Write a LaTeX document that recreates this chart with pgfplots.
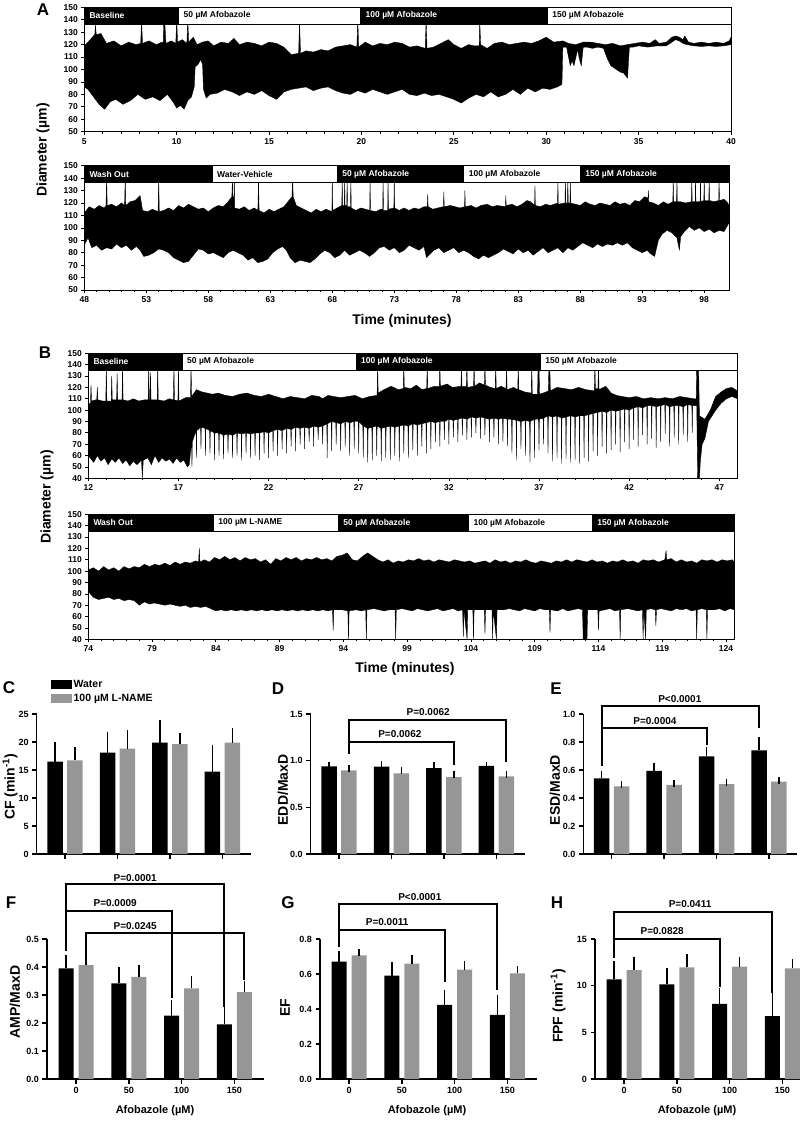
\documentclass[border=0pt]{standalone}
\usepackage{pgfplots}
\pgfplotsset{compat=1.18}
\usepackage{fontspec}
\setmainfont{Liberation Sans}
\definecolor{gbar}{RGB}{150,150,150}

\newcommand\bandfont{\bfseries\fontsize{8.5}{9}\selectfont}
\newcommand\labfont{\bfseries\fontsize{14}{16}\selectfont}
\newcommand\pfont{\bfseries\fontsize{10}{11}\selectfont}
% band: x1 x2 ybottom ymid label
\newcommand\blk[5]{%
  \draw[fill=black, line width=0.8pt] (axis cs:#1,#3) rectangle (axis cs:#2,150);
  \node[anchor=west, text=white, font=\bandfont, inner sep=0pt, xshift=5pt] at (axis cs:#1,#4) {#5};}
\newcommand\wht[5]{%
  \draw[fill=white, line width=0.8pt] (axis cs:#1,#3) rectangle (axis cs:#2,150);
  \node[anchor=west, text=black, font=\bandfont, inner sep=0pt, xshift=5pt] at (axis cs:#1,#4) {#5};}

\tikzset{brk/.style={line width=1.9pt}}
\pgfplotsset{
  trace/.style={
    scale only axis, anchor=south west,
    axis line style={line width=0.9pt},
    tick style={line width=0.7pt, black},
    tick align=outside, xtick pos=left, ytick pos=left,
    major tick length=3pt, minor tick length=2pt,
    minor x tick num=4, ymax=150,
    ticklabel style={font=\bfseries\fontsize{8.5}{9}\selectfont},
    /pgf/number format/assume math mode=true,
  },
  tr/.style={fill=black, draw=black, line width=0.35pt, line join=round},
  barax/.style={
    scale only axis, anchor=south west, height=140pt,
    axis x line*=bottom, axis y line*=left,
    axis line style={-, line width=1.5pt},
    tick style={line width=1.5pt, black},
    tick align=outside, major tick length=4.5pt,
    xtick={0,1,2,3}, ymin=0, clip=false,
    ticklabel style={font=\bfseries\fontsize{9}{10}\selectfont},
    /pgf/number format/assume math mode=true,
  },
  wb/.style={ybar, bar width=#1, bar shift=0pt, fill=black, draw=none,
    error bars/.cd, y dir=plus, y explicit,
    error bar style={line width=1.5pt, black},
    error mark options={line width=1.5pt, black, mark size=3.5pt}},
  gb/.style={ybar, bar width=#1, bar shift=0pt, fill=gbar, draw=none,
    error bars/.cd, y dir=plus, y explicit,
    error bar style={line width=1.5pt, black},
    error mark options={line width=1.5pt, black, mark size=3.5pt}},
}

\begin{document}
\begin{tikzpicture}[font=\bfseries]
\useasboundingbox (0,0) rectangle (800pt,-1126pt);

% ---------------- A top ----------------
\begin{axis}[trace, at={(84.3pt,-131.7pt)}, width=646.7pt, height=124.4pt,
  xmin=5, xmax=40, ymin=50, xtick={5,10,...,40}, ytick={50,60,...,150}]
\addplot[tr] coordinates {
(5.0,119) (5.2,122) (5.5,127) (5.57,128) (5.6,136) (5.65,128) (5.9,129) (6.2,121) (6.6,123) (7.0,119) (7.4,122)
(7.8,120) (8.05,121) (8.1,140) (8.15,121) (8.5,123) (8.9,120) (9.2,122) (9.27,121) (9.3,140) (9.35,140) (9.42,121)
(9.7,123) (9.95,121) (10.0,140) (10.05,122) (10.3,124) (10.55,121) (10.6,140) (10.65,122) (10.9,126) (11.1,120)
(11.4,122) (11.7,123) (12.0,119) (12.4,122) (12.8,121) (13.1,125) (13.4,120) (13.8,122) (14.2,121) (14.6,119)
(15.0,122) (15.4,121) (15.8,118) (16.2,112) (16.6,113) (16.65,140) (16.7,113) (17.0,115) (17.4,114) (17.8,116)
(18.2,115) (18.6,118) (19.0,119) (19.4,120) (19.75,118) (19.8,140) (19.85,118) (20.2,122) (20.6,119) (21.0,121)
(21.4,120) (21.8,122) (22.2,121) (22.6,118) (23.0,119) (23.45,117) (23.5,140) (23.55,117) (23.9,118) (24.3,121)
(24.7,124) (25.0,120) (25.4,117) (25.8,120) (26.1,119) (26.37,119) (26.4,140) (26.45,120) (26.8,117) (27.2,121) (27.6,122)
(28.0,120) (28.4,121) (28.8,122) (29.2,121) (29.6,123) (30.0,126) (30.4,122) (30.9,123) (31.2,121) (31.6,120)
(32.0,122) (32.4,122) (32.8,121) (33.2,120) (33.6,121) (34.0,119) (34.4,120) (34.8,121) (35.2,122) (35.6,121)
(35.9,124) (36.1,121) (36.5,122) (36.8,126) (37.0,127) (37.2,126) (37.4,124) (37.5,127) (37.7,122) (38.0,121)
(38.4,122) (38.8,121) (39.2,122) (39.6,121) (39.9,123) (40.0,126)
(40.0,120) (39.6,119) (39.2,118.5) (38.8,119) (38.4,118.5) (38.0,119) (37.6,120) (37.4,121) (37.2,123) (37.0,124)
(36.8,122) (36.5,119) (36.0,119) (35.5,118) (35.0,119) (34.7,118) (34.5,118) (34.4,93) (34.2,97) (34.0,98)
(33.8,100) (33.5,103) (33.3,109) (33.1,117) (32.8,118) (32.5,117) (32.2,118) (32.0,118) (31.9,103) (31.8,108)
(31.7,116) (31.5,103) (31.4,107) (31.3,103) (31.1,118) (30.9,118) (30.85,88) (30.6,86) (30.2,84) (29.8,85)
(29.4,82) (29.0,85) (28.6,80) (28.2,84) (27.8,80) (27.4,78) (27.0,82) (26.6,78) (26.2,80) (25.8,77)
(25.4,73) (25.0,76) (24.6,78) (24.2,80) (23.8,79) (23.4,81) (23.0,79) (22.6,80) (22.2,84) (21.8,82)
(21.4,80) (21.0,82) (20.6,84) (20.2,81) (19.8,83) (19.4,80) (19.0,81) (18.6,83) (18.2,86) (17.8,85)
(17.4,83) (17.0,86) (16.6,85) (16.2,84) (15.8,82) (15.4,76) (15.0,79) (14.6,83) (14.2,80) (13.8,82)
(13.4,79) (13.0,82) (12.6,84) (12.2,81) (11.8,80) (11.6,77) (11.45,84) (11.4,104) (11.3,108) (11.15,104)
(11.0,102) (10.95,86) (10.8,78) (10.6,75) (10.4,68) (10.2,71) (10.0,69) (9.8,74) (9.5,80) (9.1,75)
(8.7,78) (8.3,76) (7.9,80) (7.5,75) (7.1,72) (6.7,76) (6.4,74) (6.1,68) (5.8,72) (5.5,78) (5.2,84) (5.0,86)
} -- cycle;
\blk{5}{10.1}{136.5}{143.25}{Baseline}
\wht{10.1}{19.95}{136.5}{143.25}{50 µM Afobazole}
\blk{19.95}{30.05}{136.5}{143.25}{100 µM Afobazole}
\wht{30.05}{40}{136.5}{143.25}{150 µM Afobazole}
\end{axis}

% ---------------- A bottom ----------------
\begin{axis}[trace, at={(84.3pt,-290pt)}, width=644.7pt, height=124.3pt,
  xmin=48, xmax=100, ymin=50, xtick={48,53,...,98}, ytick={50,60,...,150}]
\addplot[tr] coordinates {
(48.0,112) (48.4,117) (48.8,115) (49.2,118) (49.6,116) (49.75,118) (49.8,140) (49.85,118) (50.2,119) (50.6,117)
(51.0,120) (51.25,118) (51.3,140) (51.35,118) (51.7,121) (52.1,122) (52.5,126) (52.7,114) (53.1,113) (53.5,115)
(53.95,113) (54.0,140) (54.05,113) (54.4,114) (54.8,116) (55.2,114) (55.6,118) (56.0,116) (56.4,119) (56.8,117)
(57.2,115) (57.6,116) (58.0,113) (58.4,116) (58.8,118) (59.2,117) (59.6,121) (59.9,125) (59.95,140) (59.98,125)
(60.07,125) (60.1,140) (60.13,116) (60.5,115) (60.9,117) (61.3,114) (61.7,116) (62.0,114) (62.05,140) (62.1,114) (62.5,112)
(62.9,115) (63.3,113) (63.7,115) (64.1,117) (64.5,122) (64.75,125) (64.8,140) (64.85,125) (65.1,118) (65.5,116)
(65.9,114) (66.3,112) (66.7,115) (67.1,113) (67.5,115) (67.97,113) (68.0,140) (68.03,114) (68.4,116) (68.77,118)
(68.8,140) (68.83,118) (68.97,118) (69.0,140) (69.03,118) (69.17,118) (69.2,140) (69.23,117) (69.47,117) (69.5,140) (69.53,116) (69.9,114) (70.3,116)
(70.7,115) (71.02,114) (71.05,140) (71.08,114) (71.5,113) (71.9,115) (72.07,115) (72.1,140) (72.13,114) (72.47,114) (72.5,140) (72.53,115)
(72.97,116) (73.0,140) (73.03,116) (73.4,114) (73.8,116) (74.2,114) (74.6,116) (75.0,115) (75.4,117) (75.67,117) (75.7,127)
(75.73,117) (76.1,115) (76.5,116) (76.97,117) (77.0,129) (77.03,117) (77.5,118) (77.9,117) (78.3,116) (78.67,117)
(78.7,130) (78.73,117) (79.2,118) (79.6,116) (80.0,118) (80.5,119) (80.9,117) (81.3,118) (81.97,117) (82.0,126)
(82.03,118) (82.5,119) (82.9,117) (83.3,119) (83.7,122) (84.0,121) (84.32,118) (84.35,134) (84.38,118) (84.8,117)
(85.2,119) (85.6,118) (86.17,120) (86.2,138) (86.23,119) (86.77,120) (86.8,140) (86.83,120) (86.97,120) (87.0,140) (87.03,120)
(87.17,120) (87.2,140) (87.23,120) (87.6,119) (88.0,118) (88.4,121) (88.8,119) (89.2,118) (89.6,120) (90.0,119) (90.4,118)
(90.8,121) (91.2,119) (91.6,120) (92.0,118) (92.4,122) (92.8,121) (93.2,125) (93.47,124) (93.5,130) (93.53,121) (93.9,120)
(94.3,118) (94.7,121) (95.1,119) (95.47,121) (95.5,140) (95.53,121) (95.77,121) (95.8,140) (95.83,121) (96.1,121) (96.5,120)
(96.97,121) (97.0,140) (97.03,121) (97.27,121) (97.3,140) (97.33,121) (97.67,121) (97.7,140) (97.73,121) (97.97,122) (98.0,140) (98.03,122)
(98.37,122) (98.4,140) (98.43,122) (98.8,121) (99.17,122) (99.2,140) (99.23,122) (99.6,123) (99.9,120) (100,118)
(100,104) (99.6,97) (99.2,98) (98.8,96) (98.4,99) (98.0,97) (97.6,100) (97.2,98) (96.8,101) (96.4,97)
(96.1,93) (96.0,82) (95.8,92) (95.4,96) (95.0,98) (94.6,95) (94.3,90) (94.0,77) (93.7,79) (93.4,82)
(93.0,80) (92.6,82) (92.2,84) (91.8,88) (91.4,86) (91.0,88) (90.6,86) (90.2,87) (89.8,85) (89.4,87)
(89.0,84) (88.6,86) (88.2,88) (87.8,85) (87.4,82) (87.0,84) (86.6,80) (86.2,84) (85.8,82) (85.4,80)
(85.0,84) (84.6,81) (84.2,78) (83.8,82) (83.4,80) (83.0,83) (82.6,79) (82.2,81) (81.8,83) (81.4,80)
(81.0,78) (80.6,76) (80.2,78) (79.8,75) (79.4,77) (79.0,80) (78.6,82) (78.2,80) (77.8,84) (77.4,82)
(77.0,80) (76.6,84) (76.2,82) (75.8,78) (75.6,76) (75.4,85) (75.0,82) (74.6,84) (74.2,86) (73.8,82)
(73.4,80) (73.0,84) (72.6,82) (72.2,85) (71.8,84) (71.4,80) (71.0,77) (70.6,80) (70.2,82) (69.8,80)
(69.4,78) (69.0,82) (68.6,78) (68.2,76) (67.8,80) (67.4,82) (67.0,79) (66.6,75) (66.2,72) (65.8,73)
(65.4,74) (65.0,72) (64.6,76) (64.3,82) (64.0,85) (63.6,83) (63.2,80) (62.8,75) (62.4,73) (62.0,72)
(61.6,76) (61.2,74) (60.8,78) (60.4,80) (60.0,82) (59.6,80) (59.2,76) (58.8,78) (58.4,80) (58.0,79)
(57.6,82) (57.2,83) (56.8,78) (56.4,73) (56.0,72) (55.6,74) (55.2,76) (54.8,80) (54.4,82) (54.0,83)
(53.6,80) (53.2,78) (52.8,77) (52.5,82) (52.2,85) (51.8,82) (51.4,86) (51.0,84) (50.6,87) (50.2,83)
(49.8,84) (49.4,82) (49.0,86) (48.6,84) (48.3,92) (48.0,86)
} -- cycle;
\blk{48}{58.3}{136.5}{143.25}{Wash Out}
\wht{58.3}{68.4}{136.5}{143.25}{Water-Vehicle}
\blk{68.4}{78.6}{136.5}{143.25}{50 µM Afobazole}
\wht{78.6}{88}{136.5}{143.25}{100 µM Afobazole}
\blk{88}{100}{136.5}{143.25}{150 µM Afobazole}
\end{axis}

% ---------------- B top ----------------
\begin{axis}[trace, at={(88.3pt,-478.3pt)}, width=649pt, height=125pt,
  xmin=12, xmax=48, ymin=40, xtick={12,17,...,47}, ytick={40,50,...,150}]
\addplot[tr] coordinates {
(12.0,105) (12.12,106) (12.15,122) (12.18,108) (12.4,109) (12.47,109) (12.5,120) (12.53,109) (12.8,108) (12.97,108) (13.0,140) (13.03,108)
(13.27,108) (13.3,130) (13.33,109) (13.57,109) (13.6,132) (13.63,109) (13.87,109) (13.9,140) (13.93,109) (14.2,108) (14.5,110) (14.8,108)
(15.1,109) (15.32,109) (15.35,140) (15.38,109) (15.42,109) (15.45,133) (15.48,109) (15.82,109) (15.85,140) (15.88,109) (16.2,108)
(16.5,110) (16.72,109) (16.75,140) (16.78,109) (16.97,108) (17.0,140) (17.03,108)
(17.4,111) (17.67,111) (17.7,140) (17.73,112) (18.0,118) (18.3,116) (18.6,115) (18.9,114) (19.2,115) (19.6,113) (20.0,112)
(20.4,114) (20.8,115) (21.2,113) (21.6,112) (22.0,114) (22.4,112) (22.8,110) (23.2,112) (23.6,111) (24.0,110)
(24.4,113) (24.8,112) (25.0,110) (25.3,113) (25.6,112) (26.0,111) (26.4,112) (26.8,113) (27.2,110) (27.6,112)
(28.02,113) (28.05,140) (28.08,115) (28.4,118) (28.8,121) (29.2,118) (29.47,119) (29.5,140) (29.53,120) (29.9,119) (30.2,122)
(30.5,118) (30.77,119) (30.8,140) (30.83,119) (31.2,121) (31.47,121) (31.5,140) (31.53,121) (31.9,123) (32.2,120)
(32.67,121) (32.7,140) (32.73,121) (32.97,121) (33.0,140) (33.03,120) (33.37,121) (33.4,140) (33.43,121) (33.7,124)
(33.97,122) (34.0,140) (34.03,122) (34.3,120) (34.57,119) (34.6,140) (34.63,119) (34.9,121) (35.17,119) (35.2,140) (35.23,118)
(35.6,120) (35.82,118) (35.85,140) (35.88,118) (36.2,116) (36.57,115) (36.6,140) (36.63,114) (36.92,114) (36.95,140)
(37.0,140) (37.03,114) (37.4,116) (37.52,117) (37.55,140) (37.6,140) (37.63,117) (38.0,120) (38.4,119) (38.8,118) (39.2,120)
(39.6,118) (40.07,117) (40.1,140) (40.13,119) (40.27,119) (40.3,140) (40.33,118) (40.7,121) (41.0,115) (41.3,113) (41.6,112)
(42.0,111) (42.4,112) (42.8,110) (43.2,111) (43.6,110) (44.0,111) (44.4,110) (44.8,112) (45.2,111) (45.6,110)
(45.72,110) (45.75,140) (45.85,140) (45.9,95) (46.2,92) (46.5,100) (46.8,112) (47.1,116) (47.4,119) (47.7,120) (48.0,117)
(48.0,110) (47.7,112) (47.4,110) (47.1,106) (46.8,100) (46.6,95) (46.4,90) (46.2,75) (46.05,70) (45.95,55)
(45.9,40) (45.85,40) (45.8,40) (45.75,104)
(45.52,104) (45.5,80) (45.48,104) (45.27,105) (45.25,72) (45.23,105) (45.02,103) (45.0,78) (44.98,103)
(44.77,104) (44.75,70) (44.73,104) (44.52,104) (44.5,76) (44.48,104) (44.27,103) (44.25,68) (44.23,103)
(44.02,105) (44.0,79) (43.98,105) (43.77,104) (43.75,72) (43.73,104) (43.52,103) (43.5,67) (43.48,103)
(43.27,104) (43.25,75) (43.23,104) (43.02,104) (43.0,70) (42.98,104) (42.77,102) (42.75,78) (42.73,102)
(42.52,103) (42.5,68) (42.48,103) (42.27,102) (42.25,74) (42.23,102) (42.02,100) (42.0,66) (41.98,100)
(41.77,101) (41.75,72) (41.73,101) (41.52,100) (41.5,63) (41.48,100) (41.27,99) (41.25,70) (41.23,99)
(41.02,100) (41.0,65) (40.98,100) (40.77,98) (40.75,62) (40.73,98) (40.52,99) (40.5,68) (40.48,99)
(40.27,98) (40.25,60) (40.23,98) (40.02,97) (40.0,64) (39.98,97) (39.77,96) (39.75,55) (39.73,96)
(39.52,95) (39.5,58) (39.48,95) (39.27,95) (39.25,53) (39.23,95) (39.02,94) (39.0,56) (38.98,94)
(38.77,95) (38.75,54) (38.73,95) (38.52,94) (38.5,57) (38.48,94) (38.27,93) (38.25,53) (38.23,93)
(38.02,95) (38.0,58) (37.98,95) (37.77,94) (37.75,55) (37.73,94) (37.52,95) (37.5,62) (37.48,95)
(37.27,93) (37.25,70) (37.23,93) (37.02,92) (37.0,65) (36.98,92) (36.77,92) (36.75,58) (36.73,92)
(36.52,90) (36.5,54) (36.48,90) (36.27,91) (36.25,60) (36.23,91) (36.02,90) (36.0,66) (35.98,90)
(35.77,91) (35.75,56) (35.73,91) (35.52,92) (35.5,62) (35.48,92) (35.27,92) (35.25,68) (35.23,92)
(35.02,93) (35.0,72) (34.98,93) (34.77,92) (34.75,70) (34.73,92) (34.52,93) (34.5,76) (34.48,93)
(34.27,92) (34.25,72) (34.23,92) (34.02,93) (34.0,78) (33.98,93) (33.77,94) (33.75,75) (33.73,94)
(33.52,93) (33.5,80) (33.48,93) (33.27,94) (33.25,76) (33.23,94) (33.02,92) (33.0,74) (32.98,92)
(32.77,93) (32.75,78) (32.73,93) (32.52,92) (32.5,72) (32.48,92) (32.27,91) (32.25,76) (32.23,91)
(32.02,92) (32.0,70) (31.98,92) (31.77,90) (31.75,74) (31.73,90) (31.52,90) (31.5,68) (31.48,90)
(31.27,89) (31.25,72) (31.23,89) (31.02,90) (31.0,66) (30.98,90) (30.77,89) (30.75,62) (30.73,89)
(30.52,88) (30.5,68) (30.48,88) (30.27,87) (30.25,60) (30.23,87) (30.02,88) (30.0,65) (29.98,88)
(29.77,86) (29.75,58) (29.73,86) (29.52,87) (29.5,62) (29.48,87) (29.27,86) (29.25,55) (29.23,86)
(29.02,85) (29.0,60) (28.98,85) (28.77,86) (28.75,56) (28.73,86) (28.52,85) (28.5,58) (28.48,85)
(28.27,84) (28.25,55) (28.23,84) (28.02,86) (28.0,60) (27.98,86) (27.77,85) (27.75,56) (27.73,85)
(27.52,84) (27.5,54) (27.48,84) (27.27,86) (27.25,58) (27.23,86) (27.02,90) (27.0,62) (26.98,90)
(26.77,90) (26.75,66) (26.73,90) (26.52,89) (26.5,60) (26.48,89) (26.27,90) (26.25,68) (26.23,90)
(26.02,88) (26.0,64) (25.98,88) (25.77,89) (25.75,70) (25.73,89) (25.52,90) (25.5,64) (25.48,90)
(25.27,88) (25.25,58) (25.23,88) (25.02,86) (25.0,70) (24.98,86) (24.77,85) (24.75,74) (24.73,85)
(24.52,86) (24.5,68) (24.48,86) (24.27,84) (24.25,72) (24.23,84) (24.02,85) (24.0,66) (23.98,85)
(23.77,84) (23.75,70) (23.73,84) (23.52,85) (23.5,64) (23.48,85) (23.27,83) (23.25,68) (23.23,83)
(23.02,84) (23.0,62) (22.98,84) (22.77,82) (22.75,66) (22.73,82) (22.52,83) (22.5,60) (22.48,83)
(22.27,82) (22.25,64) (22.23,82) (22.02,80) (22.0,58) (21.98,80) (21.77,81) (21.75,62) (21.73,81)
(21.52,80) (21.5,56) (21.48,80) (21.27,80) (21.25,60) (21.23,80) (21.02,79) (21.0,58) (20.98,79)
(20.77,80) (20.75,62) (20.73,80) (20.52,79) (20.5,56) (20.48,79) (20.27,80) (20.25,60) (20.23,80)
(20.02,78) (20.0,58) (19.98,78) (19.77,79) (19.75,62) (19.73,79) (19.52,78) (19.5,57) (19.48,78)
(19.27,80) (19.25,60) (19.23,80) (19.02,80) (19.0,56) (18.98,80) (18.77,82) (18.75,62) (18.73,82)
(18.52,84) (18.5,60) (18.48,84) (18.27,85) (18.25,66) (18.23,85) (18.02,82) (18.0,58) (17.98,82)
(17.77,72) (17.75,50) (17.73,72)
(17.6,52) (17.5,50) (17.3,56) (17.1,54) (16.9,58) (16.7,53) (16.5,57) (16.3,55) (16.1,58) (15.9,54)
(15.7,60) (15.5,52) (15.3,58) (15.05,56) (15.0,40) (14.95,56) (14.7,52) (14.5,55) (14.3,51) (14.1,56)
(13.9,53) (13.7,58) (13.5,54) (13.3,57) (13.1,52) (12.9,58) (12.7,55) (12.5,60) (12.3,54) (12.1,58) (12.0,60)
} -- cycle;
\blk{12}{17.2}{135.3}{142.65}{Baseline}
\wht{17.2}{26.85}{135.3}{142.65}{50 µM Afobazole}
\blk{26.85}{37.07}{135.3}{142.65}{100 µM Afobazole}
\wht{37.07}{48}{135.3}{142.65}{150 µM Afobazole}
\end{axis}

% ---------------- B bottom ----------------
\begin{axis}[trace, at={(88.3pt,-639.3pt)}, width=646pt, height=125pt,
  xmin=74, xmax=124.65, ymin=40, xtick={74,79,...,124}, ytick={40,50,...,150}]
\addplot[tr] coordinates {
(74.0,101) (74.4,103) (74.8,100) (75.2,104) (75.6,101) (76.0,103) (76.4,100) (76.8,104) (77.2,102) (77.6,104)
(78.0,103) (78.4,106) (78.8,104) (79.2,106) (79.6,105) (80.0,107) (80.4,105) (80.8,108) (81.2,106) (81.6,108)
(82.0,107) (82.4,109) (82.65,108) (82.7,120) (82.75,108) (83.1,110) (83.5,108) (83.9,112) (84.3,110) (84.7,113)
(85.1,110) (85.5,112) (85.9,109) (86.3,112) (86.7,110) (87.1,111) (87.5,108) (87.9,110) (88.3,106) (88.7,111)
(89.1,109) (89.5,112) (89.9,110) (90.3,112) (90.7,109) (91.1,111) (91.5,110) (91.9,112) (92.3,110) (92.7,111)
(93.1,109) (93.5,113) (93.9,114) (94.3,116) (94.7,110) (95.1,109) (95.5,113) (95.9,116) (96.3,113) (96.7,110)
(97.1,108) (97.5,110) (97.9,107) (98.3,109) (98.7,108) (99.1,110) (99.5,109) (99.9,111) (100.3,109) (100.7,110)
(101.1,108) (101.5,110) (101.9,109) (102.3,108) (102.7,110) (103.1,109) (103.5,108) (103.9,109) (104.3,107) (104.7,108)
(105.1,109) (105.5,107) (105.9,110) (106.3,108) (106.7,109) (107.1,107) (107.5,109) (107.9,108) (108.3,110) (108.7,108)
(109.1,107) (109.5,109) (109.9,108) (110.3,107) (110.7,109) (111.1,108) (111.5,110) (111.9,108) (112.3,110) (112.7,109)
(113.1,108) (113.5,110) (113.9,108) (114.3,109) (114.7,107) (115.1,109) (115.5,108) (115.9,110) (116.3,108) (116.7,109)
(117.1,107) (117.5,110) (117.9,109) (118.3,110) (118.7,108) (119.2,110) (119.3,118) (119.35,110) (119.7,111) (120.1,108)
(120.5,110) (120.9,108) (121.3,109) (121.7,107) (122.1,110) (122.5,109) (122.9,110) (123.3,108) (123.7,110) (124.1,109)
(124.5,110) (124.65,108)
(124.65,66) (124.3,67) (123.9,65) (123.5,67) (123.1,66) (122.55,66) (122.5,40) (122.45,66) (122.1,67) (121.75,66)
(121.7,40) (121.65,66) (121.3,65) (120.9,67) (120.5,66) (120.1,67) (119.7,65) (119.3,66) (118.9,67) (118.55,66)
(118.5,52) (118.45,66) (118.1,67) (117.75,66) (117.7,40) (117.55,66) (117.5,40) (117.45,66) (117.1,65) (116.7,66)
(116.3,67) (115.75,66) (115.7,40) (115.65,66) (115.3,65) (114.9,67) (114.5,66) (114.05,65) (114.0,48) (113.95,66)
(113.6,66) (113.15,66) (113.1,40) (113.0,40) (112.8,40) (112.75,66) (112.4,67) (112.0,66) (111.6,65) (111.2,67)
(110.8,65) (110.25,66) (110.2,46) (110.15,66) (109.8,66) (109.4,67) (109.0,65) (108.6,66) (108.2,67) (107.8,65)
(107.4,66) (107.0,67) (106.6,66) (106.05,66) (106.0,40) (105.75,66) (105.7,40) (105.65,66) (105.15,66) (105.1,45)
(105.05,66) (104.25,66) (104.2,40) (104.15,66) (103.75,66) (103.7,40) (103.45,66) (103.4,42) (103.35,66) (103.0,65)
(102.6,67) (102.2,66) (101.8,65) (101.4,67) (101.0,66) (100.6,65) (100.2,66) (99.8,67) (99.4,65) (99.0,66)
(98.6,67) (98.15,66) (98.1,40) (98.05,66) (97.6,66) (97.2,65) (96.8,66) (96.4,67) (95.85,66) (95.8,40)
(95.75,66) (95.4,65) (95.0,66) (94.45,65) (94.4,40) (94.35,65) (93.9,66) (93.25,66) (93.2,48) (93.15,66)
(92.8,65) (92.4,66) (92.0,65) (91.6,66) (91.2,65) (90.8,66) (90.4,65) (90.0,66) (89.6,65) (89.2,66)
(88.8,65) (88.4,66) (88.0,65) (87.6,66) (87.2,65) (86.8,66) (86.4,65) (86.0,66) (85.6,65) (85.2,66)
(84.8,65) (84.4,66) (84.0,65) (83.6,67) (83.2,69) (82.8,68) (82.4,69) (82.0,68) (81.6,70) (81.2,69)
(80.8,70) (80.4,71) (80.0,70) (79.6,71) (79.2,72) (78.8,71) (78.4,73) (78.0,70) (77.6,74) (77.2,75)
(76.8,74) (76.4,76) (76.0,75) (75.6,77) (75.2,76) (74.8,75) (74.4,77) (74.0,82)
} -- cycle;
\blk{74}{83.8}{135}{142.5}{Wash Out}
\wht{83.8}{93.6}{135}{142.5}{100 µM L-NAME}
\blk{93.6}{103.8}{135}{142.5}{50 µM Afobazole}
\wht{103.8}{113.5}{135}{142.5}{100 µM Afobazole}
\blk{113.5}{124.65}{135}{142.5}{150 µM Afobazole}
\end{axis}

% trace labels
\node[font=\bfseries\fontsize{17}{18}\selectfont] at (43pt,-10pt) {A};
\node[font=\bfseries\fontsize{17}{18}\selectfont] at (45pt,-353pt) {B};
\node[font=\labfont, rotate=90] at (43pt,-150pt) {Diameter (µm)};
\node[font=\labfont, rotate=90] at (47pt,-497pt) {Diameter (µm)};
\node[font=\labfont] at (402pt,-321pt) {Time (minutes)};
\node[font=\labfont] at (405pt,-669pt) {Time (minutes)};

% ---------------- C ----------------
\begin{axis}[barax, at={(36.7pt,-854pt)}, width=214pt,
  xmin=-0.54, xmax=3.54, ymax=25, ytick={0,5,...,25}, xticklabel=\empty,
  legend style={at={(0.05,1.27)}, anchor=north west, draw=none, fill=none,
    font=\bfseries\fontsize{10.5}{11}\selectfont, row sep=1pt},
  legend cell align=left,
  legend image code/.code={\fill[#1] (0pt,-4.5pt) rectangle (21pt,5pt);}]
\addplot[wb=15.5pt] table[row sep=\\, x=x, y=y, y error=e] {
x y e\\ -0.19 16.5 2.9\\ 0.81 18.1 3.1\\ 1.81 19.9 3.4\\ 2.81 14.7 4.1\\};
\addlegendentry{Water}
\addplot[gb=15.5pt] table[row sep=\\, x=x, y=y, y error=e] {
x y e\\ 0.19 16.7 1.7\\ 1.19 18.8 2.7\\ 2.19 19.6 1.3\\ 3.19 19.9 1.9\\};
\addlegendentry{100 µM L-NAME}
\end{axis}

% ---------------- D ----------------
\begin{axis}[barax, at={(310.7pt,-854pt)}, width=214pt,
  xmin=-0.54, xmax=3.54, ymax=1.5, ytick={0,0.5,1,1.5}, xticklabel=\empty,
  yticklabel style={/pgf/number format/.cd, fixed, fixed zerofill, precision=1}]
\addplot[wb=15.5pt] table[row sep=\\, x=x, y=y, y error=e] {
x y e\\ -0.19 0.940 0.006\\ 0.81 0.935 0.020\\ 1.81 0.920 0.025\\ 2.81 0.945 0.006\\};
\addplot[gb=15.5pt] table[row sep=\\, x=x, y=y, y error=e] {
x y e\\ 0.19 0.895 0.018\\ 1.19 0.865 0.030\\ 2.19 0.825 0.032\\ 3.19 0.832 0.022\\};
\draw[brk] (axis cs:0.19,1.075) |- (axis cs:3.19,1.434) -- (axis cs:3.19,0.986);
\draw[brk] (axis cs:0.19,1.20) -- (axis cs:2.19,1.20) -- (axis cs:2.19,0.95);
\node[font=\pfont] at (axis cs:1.70,1.525) {P=0.0062};
\node[font=\pfont] at (axis cs:1.16,1.29) {P=0.0062};
\end{axis}

% ---------------- E ----------------
\begin{axis}[barax, at={(583.3pt,-854pt)}, width=214pt,
  xmin=-0.54, xmax=3.54, ymax=1.0, ytick={0,0.2,...,1.0}, xticklabel=\empty,
  yticklabel style={/pgf/number format/.cd, fixed, fixed zerofill, precision=1}]
\addplot[wb=15.5pt] table[row sep=\\, x=x, y=y, y error=e] {
x y e\\ -0.19 0.540 0.030\\ 0.81 0.593 0.033\\ 1.81 0.698 0.042\\ 2.81 0.740 0.070\\};
\addplot[gb=15.5pt] table[row sep=\\, x=x, y=y, y error=e] {
x y e\\ 0.19 0.483 0.010\\ 1.19 0.493 0.012\\ 2.19 0.500 0.014\\ 3.19 0.517 0.009\\};
\draw[brk] (axis cs:-0.19,0.626) |- (axis cs:2.81,1.06) -- (axis cs:2.81,0.898);
\draw[brk] (axis cs:-0.19,0.898) -- (axis cs:1.81,0.898) -- (axis cs:1.81,0.779);
\node[font=\pfont] at (axis cs:1.30,1.11) {P<0.0001};
\node[font=\pfont] at (axis cs:0.825,0.952) {P=0.0004};
\end{axis}

% ---------------- F ----------------
\begin{axis}[barax, at={(47pt,-1079pt)}, width=216.7pt,
  xmin=-0.554, xmax=3.558, ymax=0.5, ytick={0,0.1,...,0.5}, xticklabels={0,50,100,150},
  yticklabel style={/pgf/number format/.cd, fixed, fixed zerofill, precision=1}]
\addplot[wb=15pt] table[row sep=\\, x=x, y=y, y error=e] {
x y e\\ -0.19 0.395 0.036\\ 0.81 0.342 0.044\\ 1.81 0.226 0.044\\ 2.81 0.195 0.049\\};
\addplot[gb=15pt] table[row sep=\\, x=x, y=y, y error=e] {
x y e\\ 0.19 0.407 0.022\\ 1.19 0.365 0.031\\ 2.19 0.324 0.030\\ 3.19 0.310 0.026\\};
\draw[brk] (axis cs:-0.19,0.458) |- (axis cs:2.81,0.696) -- (axis cs:2.81,0.258);
\draw[brk] (axis cs:-0.19,0.60) -- (axis cs:1.81,0.60) -- (axis cs:1.81,0.288);
\draw[brk] (axis cs:0.19,0.439) |- (axis cs:3.19,0.523) -- (axis cs:3.19,0.354);
\node[font=\pfont] at (axis cs:1.12,0.718) {P=0.0001};
\node[font=\pfont] at (axis cs:0.74,0.627) {P=0.0009};
\node[font=\pfont] at (axis cs:1.12,0.548) {P=0.0245};
\end{axis}

% ---------------- G ----------------
\begin{axis}[barax, at={(320pt,-1079pt)}, width=216.7pt,
  xmin=-0.554, xmax=3.558, ymax=0.8, ytick={0,0.2,...,0.8}, xticklabels={0,50,100,150},
  yticklabel style={/pgf/number format/.cd, fixed, fixed zerofill, precision=1}]
\addplot[wb=15pt] table[row sep=\\, x=x, y=y, y error=e] {
x y e\\ -0.19 0.671 0.038\\ 0.81 0.591 0.055\\ 1.81 0.424 0.066\\ 2.81 0.367 0.095\\};
\addplot[gb=15pt] table[row sep=\\, x=x, y=y, y error=e] {
x y e\\ 0.19 0.707 0.015\\ 1.19 0.659 0.029\\ 2.19 0.625 0.027\\ 3.19 0.604 0.019\\};
\draw[brk] (axis cs:-0.19,0.756) |- (axis cs:2.81,1.0) -- (axis cs:2.81,0.509);
\draw[brk] (axis cs:-0.19,0.851) -- (axis cs:1.81,0.851) -- (axis cs:1.81,0.557);
\node[font=\pfont] at (axis cs:1.34,1.04) {P<0.0001};
\node[font=\pfont] at (axis cs:0.72,0.899) {P=0.0011};
\end{axis}

% ---------------- H ----------------
\begin{axis}[barax, at={(595pt,-1079pt)}, width=204.5pt,
  xmin=-0.554, xmax=3.326, ymax=15, ytick={0,5,10,15}, xticklabels={0,50,100,150}]
\addplot[wb=15pt] table[row sep=\\, x=x, y=y, y error=e] {
x y e\\ -0.19 10.68 1.6\\ 0.81 10.14 1.4\\ 1.81 8.04 1.3\\ 2.81 6.75 2.1\\};
\addplot[gb=15pt] table[row sep=\\, x=x, y=y, y error=e] {
x y e\\ 0.19 11.68 1.07\\ 1.19 11.96 1.1\\ 2.19 12.04 0.7\\ 3.19 11.86 0.65\\};
\draw[brk] (axis cs:-0.19,13.0) |- (axis cs:2.81,17.86) -- (axis cs:2.81,9.18);
\draw[brk] (axis cs:-0.19,15.0) -- (axis cs:1.81,15.0) -- (axis cs:1.81,9.9);
\node[font=\pfont] at (axis cs:1.25,18.75) {P=0.0411};
\node[font=\pfont] at (axis cs:0.72,15.9) {P=0.0828};
\end{axis}

% bar panel labels
\foreach \L/\x/\y in {C/9/688, D/278/689, E/556/689, F/11/903, G/288/903, H/557/903}
  \node[font=\bfseries\fontsize{17}{18}\selectfont] at (\x pt,-\y pt) {\L};
\node[font=\labfont, rotate=90] at (10pt,-787pt) {CF (min\textsuperscript{-1})};
\node[font=\labfont, rotate=90] at (283pt,-790pt) {EDD/MaxD};
\node[font=\labfont, rotate=90] at (555pt,-790pt) {ESD/MaxD};
\node[font=\labfont, rotate=90] at (15pt,-1002pt) {AMP/MaxD};
\node[font=\labfont, rotate=90] at (285pt,-1008pt) {EF};
\node[font=\labfont, rotate=90] at (558pt,-1006pt) {FPF (min\textsuperscript{-1})};
\foreach \x in {155,427,697}
  \node[font=\bfseries\fontsize{11}{12}\selectfont] at (\x pt,-1111pt) {Afobazole (µM)};
\end{tikzpicture}
\end{document}
